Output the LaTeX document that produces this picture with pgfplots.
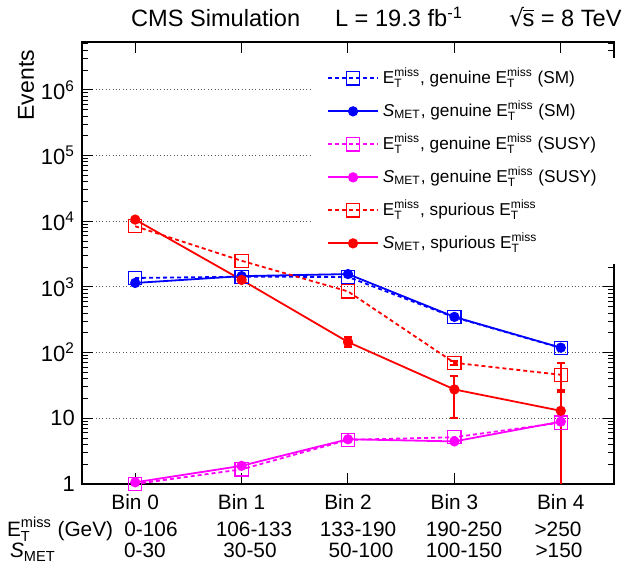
\documentclass[border=0pt]{standalone}
\usepackage{fontspec}
\setmainfont{Liberation Sans}
\newfontfamily\dejavu{DejaVu Sans}
\usepackage{amsmath}
\usepackage{pgfplots}
\pgfplotsset{compat=1.18}

\definecolor{rootblue}{rgb}{0,0,1}
\definecolor{rootmagenta}{rgb}{1,0,1}
\definecolor{rootred}{rgb}{1,0,0}

\newcommand{\Emiss}{$\text{E}^{\text{miss}}_{\text{T}}$}
\newcommand{\Smet}{$\textit{S}_{\text{MET}}$}

\begin{document}
\begin{tikzpicture}
\begin{axis}[
  at={(41pt,41pt)}, anchor=south west,
  scale only axis, width=266pt, height=221pt,
  ymode=log, xmin=-0.5, xmax=4.5, ymin=1, ymax=5.36e6,
  axis line style={line width=1pt},
  tick style={line width=0.5pt, black},
  major tick length=5.5pt, minor tick length=3pt,
  xtick={0,1,2,3,4},
  xticklabels={Bin 0,Bin 1,Bin 2,Bin 3,Bin 4},
  xticklabel style={font=\fontsize{10.4}{12}\selectfont, yshift=-1.5pt},
  ytick={1,10,100,1000,10000,100000,1000000},
  yticklabels={1,10,10\textsuperscript{2},10\textsuperscript{3},10\textsuperscript{4},10\textsuperscript{5},10\textsuperscript{6}},
  minor ytick={2,3,4,5,6,7,8,9,20,30,40,50,60,70,80,90,200,300,400,500,600,700,800,900,
    2000,3000,4000,5000,6000,7000,8000,9000,20000,30000,40000,50000,60000,70000,80000,90000,
    200000,300000,400000,500000,600000,700000,800000,900000,2000000,3000000,4000000,5000000},
  yticklabel style={font=\fontsize{11}{13}\selectfont},
  ymajorgrids=true,
  major grid style={gray!70!black, line width=0.5pt, dash pattern=on 0.5pt off 1.2pt},
  legend cell align=left,
  legend style={at={(axis description cs:0.43,0.965)}, anchor=north west, draw=none, fill=white,
    font=\fontsize{8.6}{10}\selectfont, row sep=0pt, inner xsep=8pt, inner ysep=2pt,
    nodes={text height=8pt, text depth=2.5pt, inner ysep=3pt}},
  legend image code/.code={\draw[mark repeat=2,mark phase=2] plot coordinates {(0pt,0pt) (12.5pt,0pt) (25pt,0pt)};},
  error bars/error bar style={line width=0.9pt, solid},
  error bars/error mark options={rotate=90, mark size=2pt, line width=0.9pt, solid},
]
% E_T^miss, genuine (SM)
\addplot[rootblue, line width=0.9pt, dash pattern=on 2pt off 1.5pt, mark=square, mark size=3.3pt, mark options={solid, line width=0.6pt}]
  coordinates {(0,1370) (1,1430) (2,1420) (3,345) (4,118)};
\addlegendentry{\Emiss, genuine \Emiss\ (SM)}
% S_MET, genuine (SM)
\addplot[rootblue, line width=0.9pt, mark=*, mark size=2.1pt]
  coordinates {(0,1150) (1,1460) (2,1570) (3,350) (4,119)};
\addlegendentry{\Smet, genuine \Emiss\ (SM)}
% E_T^miss, genuine (SUSY)
\addplot[rootmagenta, line width=0.9pt, dash pattern=on 2pt off 1.5pt, mark=square, mark size=3.3pt, mark options={solid, line width=0.6pt}]
  coordinates {(0,1.0) (1,1.67) (2,4.7) (3,5.15) (4,8.6)};
\addlegendentry{\Emiss, genuine \Emiss\ (SUSY)}
% S_MET, genuine (SUSY)
\addplot[rootmagenta, line width=0.9pt, mark=*, mark size=2.1pt]
  coordinates {(0,1.06) (1,1.89) (2,4.8) (3,4.45) (4,8.9)};
\addlegendentry{\Smet, genuine \Emiss\ (SUSY)}
% E_T^miss, spurious
\addplot[rootred, line width=0.9pt, dash pattern=on 2pt off 1.5pt, mark=square, mark size=3.3pt, mark options={solid, line width=0.6pt},
  error bars/.cd, y dir=both, y explicit]
  coordinates {(0,8400) (1,2500) (2,855) (3,70) +- (0,5) (4,46) += (0,23) -= (0,21)};
\addlegendentry{\Emiss, spurious \Emiss}
% S_MET, spurious
\addplot[rootred, line width=0.9pt, mark=*, mark size=2.1pt,
  error bars/.cd, y dir=both, y explicit]
  coordinates {(0,10600) (1,1280) (2,145) += (0,28) -= (0,23) (3,27.5) += (0,17) -= (0,17.5) (4,13) += (0,14) -= (0,12.95)};
\addlegendentry{\Smet, spurious \Emiss}
\end{axis}
% y label
\node[rotate=90, anchor=east, font=\fontsize{11.5}{13}\selectfont] at (13pt,261.5pt) {Events};
% header
\node[anchor=base west, font=\fontsize{11.8}{14}\selectfont] at (62pt,269.5pt) {CMS Simulation};
\node[anchor=base west, font=\fontsize{11.8}{14}\selectfont] at (164pt,269.5pt) {L = 19.3 fb\textsuperscript{-1}};
\node[anchor=base west, font=\fontsize{11.8}{14}\selectfont] at (251pt,269.5pt) {{\dejavu √}\kern-0.8pt$\overline{\text{s}}$ = 8 TeV};
% bin ranges
\node[anchor=base west, font=\fontsize{10.4}{12}\selectfont] at (0pt,14.5pt) {\Emiss\ (GeV)};
\node[anchor=base west, font=\fontsize{10.4}{12}\selectfont] at (1.5pt,4pt) {\Smet};
\node[anchor=base, font=\fontsize{10.4}{12}\selectfont] at (75.5pt,14.5pt) {0-106};
\node[anchor=base, font=\fontsize{10.4}{12}\selectfont] at (127pt,14.5pt) {106-133};
\node[anchor=base, font=\fontsize{10.4}{12}\selectfont] at (179pt,14.5pt) {133-190};
\node[anchor=base, font=\fontsize{10.4}{12}\selectfont] at (232pt,14.5pt) {190-250};
\node[anchor=base, font=\fontsize{10.4}{12}\selectfont] at (279pt,14.5pt) {>250};
\node[anchor=base, font=\fontsize{10.4}{12}\selectfont] at (72.5pt,4pt) {0-30};
\node[anchor=base, font=\fontsize{10.4}{12}\selectfont] at (125pt,4pt) {30-50};
\node[anchor=base, font=\fontsize{10.4}{12}\selectfont] at (180.5pt,4pt) {50-100};
\node[anchor=base, font=\fontsize{10.4}{12}\selectfont] at (232pt,4pt) {100-150};
\node[anchor=base, font=\fontsize{10.4}{12}\selectfont] at (279.5pt,4pt) {>150};
\pgfresetboundingbox
\path[use as bounding box] (0,0) rectangle (314pt,283pt);
\end{tikzpicture}
\end{document}
